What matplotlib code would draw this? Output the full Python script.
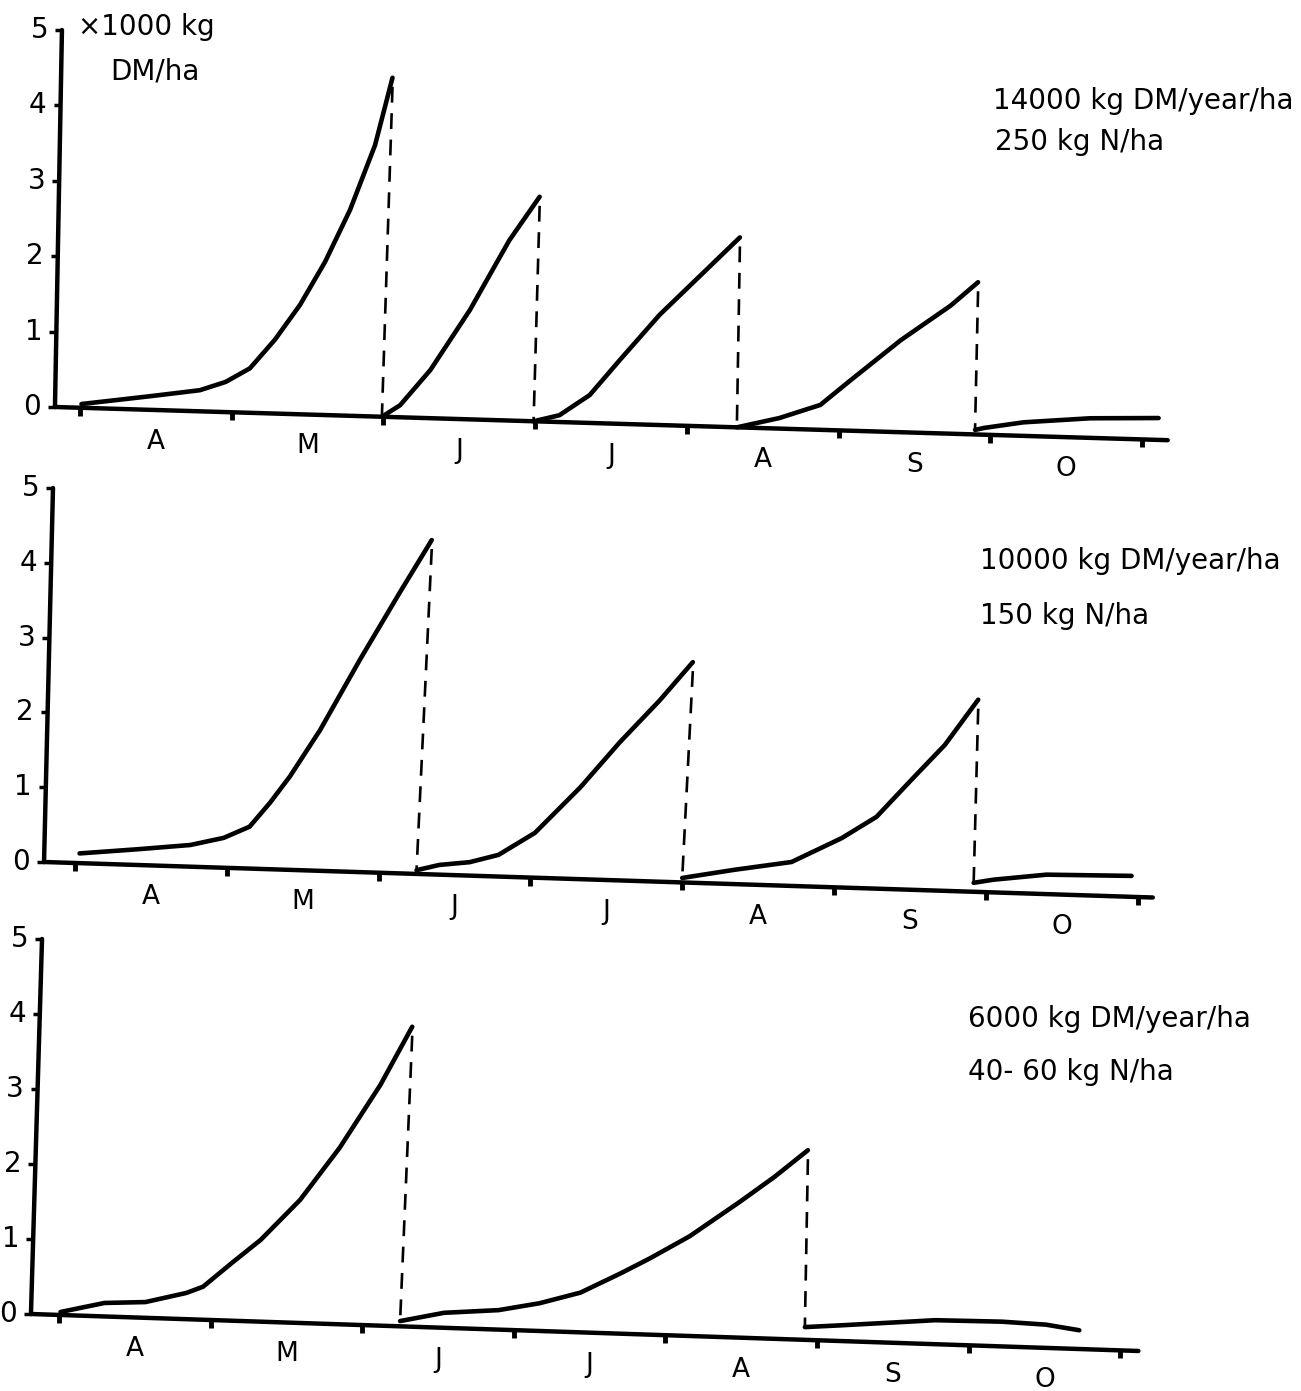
import numpy as np
import matplotlib.pyplot as plt

plt.rcParams['font.family'] = ['DejaVu Sans']

W, H = 1301, 1391

months = ['A', 'M', 'J', 'J', 'A', 'S', 'O']
y_ticks = [0, 1, 2, 3, 4, 5]

# x in months from 1 April, y in 1000 kg DM/ha above the ground line
p1_x = [
    [0.01, 0.46, 0.79, 0.96, 1.12, 1.285, 1.45, 1.615, 1.78, 1.945, 2.06],
    [1.99, 2.11, 2.31, 2.57, 2.83, 3.03],
    [2.99, 3.16, 3.36, 3.56, 3.82, 4.09, 4.35],
    [4.33, 4.61, 4.88, 5.08, 5.41, 5.74, 5.92],
    [5.90, 5.96, 6.22, 6.66, 7.11],
]
p1_y = [
    [0.05, 0.18, 0.28, 0.40, 0.59, 0.98, 1.45, 2.03, 2.73, 3.60, 4.50],
    [0.00, 0.16, 0.64, 1.45, 2.39, 2.98],
    [0.00, 0.09, 0.37, 0.85, 1.46, 2.00, 2.52],
    [0.00, 0.14, 0.33, 0.67, 1.22, 1.70, 2.02],
    [0.06, 0.09, 0.18, 0.26, 0.29],
]
p1_text = ['14000 kg DM/year/ha', '250 kg N/ha']

p2_x = [
    [0.03, 0.41, 0.76, 0.98, 1.15, 1.285, 1.416, 1.614, 1.877, 2.141, 2.35],
    [2.25, 2.40, 2.60, 2.79, 3.03, 3.33, 3.59, 3.85, 4.07],
    [4.00, 4.34, 4.72, 5.05, 5.28, 5.51, 5.73, 5.95],
    [5.92, 6.05, 6.40, 6.96],
]
p2_y = [
    [0.13, 0.21, 0.29, 0.40, 0.56, 0.89, 1.25, 1.88, 2.84, 3.76, 4.47],
    [0.05, 0.13, 0.18, 0.29, 0.60, 1.23, 1.85, 2.42, 2.95],
    [0.06, 0.19, 0.32, 0.66, 0.96, 1.47, 1.95, 2.57],
    [0.12, 0.17, 0.26, 0.28],
]
p2_text = ['10000 kg DM/year/ha', '150 kg N/ha']

p3_x = [
    [0.01, 0.30, 0.57, 0.84, 0.95, 1.14, 1.33, 1.59, 1.85, 2.12, 2.33],
    [2.25, 2.54, 2.90, 3.17, 3.44, 3.71, 3.90, 4.16, 4.49, 4.72, 4.94],
    [4.92, 5.16, 5.78, 6.22, 6.51, 6.73],
]
p3_y = [
    [0.04, 0.18, 0.21, 0.35, 0.44, 0.77, 1.09, 1.64, 2.35, 3.21, 4.00],
    [0.07, 0.20, 0.26, 0.37, 0.53, 0.81, 1.02, 1.33, 1.81, 2.16, 2.53],
    [0.17, 0.21, 0.32, 0.33, 0.31, 0.25],
]
p3_text = ['6000 kg DM/year/ha', '40- 60 kg N/ha']

# layout of each panel (pixels): month 0, px per month, y=0, px per unit
layout = [(80, 151.7, 407, 75.4), (75, 151.8, 862, 74.8), (59, 151.6, 1314, 75.0)]
# ground line tilt (units per month), foot / top of y axis (months), end of ground line
tilt = [(0.060, -0.165, -0.119, 7.17), (0.065, -0.204, -0.145, 7.10), (0.0675, -0.185, -0.112, 7.12)]
# text baselines (pixels)
text_pos = [((993, 109), (995, 150)), ((980, 569), (980, 624)), ((968, 1027), (968, 1080))]

XLIM = (-0.35, 7.55)
YLIM = (-0.9, 5.35)

fig = plt.figure(figsize=(W / 100, H / 100), dpi=100)

panels = [(p1_x, p1_y, p1_text), (p2_x, p2_y, p2_text), (p3_x, p3_y, p3_text)]

for (cx, cy, txt), (x0, sx, y0, sy), (slope, foot, top, end), tpos in zip(panels, layout, tilt, text_pos):
    left = (x0 + XLIM[0] * sx) / W
    width = (XLIM[1] - XLIM[0]) * sx / W
    bottom = 1 - (y0 - YLIM[0] * sy) / H
    height = (YLIM[1] - YLIM[0]) * sy / H
    ax = fig.add_axes([left, bottom, width, height])
    ax.set_xlim(*XLIM)
    ax.set_ylim(*YLIM)
    ax.axis('off')

    def ground(m):
        return -slope * (np.asarray(m) - foot)

    # y axis (slightly leaning, as drawn by hand)
    ax.plot([foot, top], [0, 5], color='black', lw=3.2, solid_capstyle='round')
    for t in y_ticks:
        xt = foot + (top - foot) * t / 5
        ax.plot([xt], [t], marker=0, color='black', ms=5, mew=2.5)
        ax.annotate(str(t), (xt, t), xytext=(-10, 0), textcoords='offset points',
                    ha='right', va='center', fontsize=20)

    # ground line with month ticks
    gx = np.array([foot, end])
    ax.plot(gx, ground(gx), color='black', lw=3.2, solid_capstyle='round')
    mt = np.arange(len(months) + 1)
    ax.plot(mt, ground(mt), ls='none', marker=3, color='black', ms=6, mew=3.5)
    for i, lab in enumerate(months):
        ax.annotate(lab, (i + 0.5, ground(i + 0.5)), xytext=(0, -23), textcoords='offset points',
                    ha='center', va='center', fontsize=19)

    # growth curves and dashed cut lines
    for k, (xs, ys) in enumerate(zip(cx, cy)):
        xs = np.array(xs)
        ys = np.array(ys)
        ax.plot(xs, ys + ground(xs), color='black', lw=3.3, solid_joinstyle='round',
                solid_capstyle='round')
        if k + 1 < len(cx):
            nx, ny = cx[k + 1][0], cy[k + 1][0]
            ax.plot([xs[-1], nx], [ys[-1] + ground(xs[-1]) - 0.12, ny + ground(nx)],
                    color='black', lw=1.9, dashes=(6, 4))

    for s, (px, py) in zip(txt, tpos):
        fig.text(px / W, 1 - py / H, s, ha='left', va='baseline', fontsize=20)

fig.text(78 / W, 1 - 35 / H, '\u00d71000 kg', ha='left', va='baseline', fontsize=20)
fig.text(110 / W, 1 - 80 / H, 'DM/ha', ha='left', va='baseline', fontsize=20)

plt.savefig('out.png', dpi=100)
